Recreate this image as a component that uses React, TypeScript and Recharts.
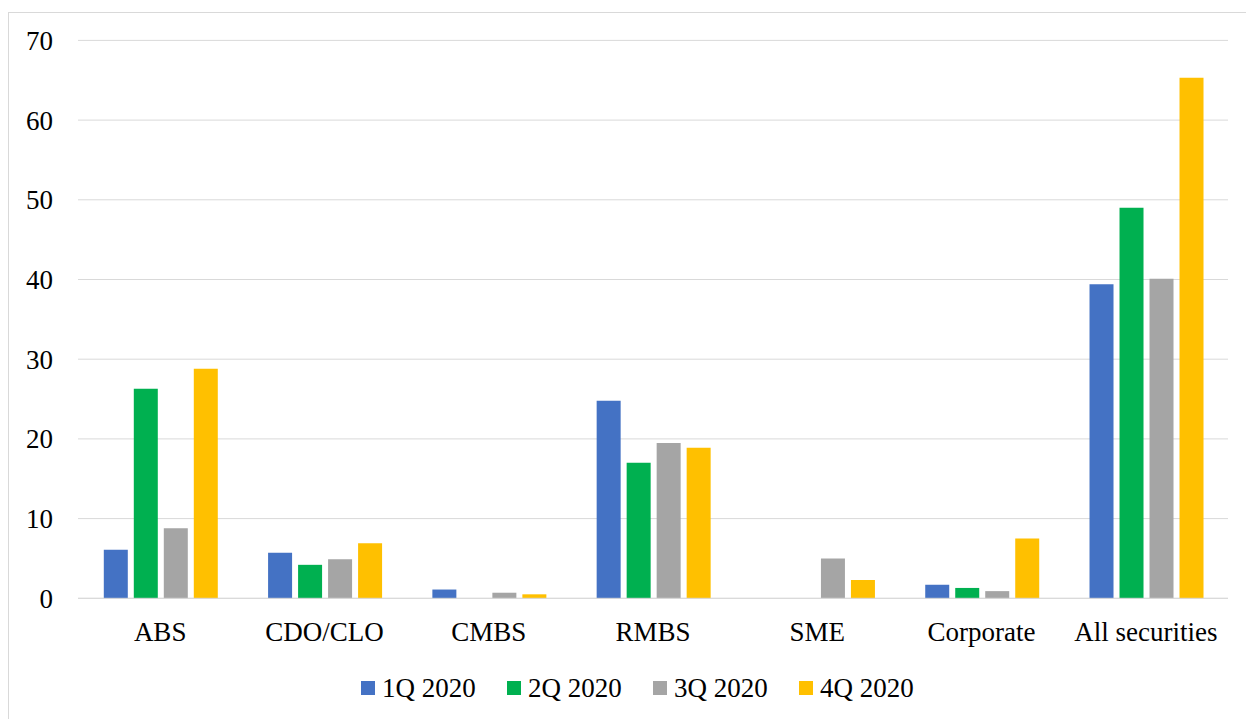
import React from "react";
import { BarChart, Bar, XAxis, YAxis, CartesianGrid, Legend } from "recharts";

// Securitisation volumes by asset class, quarterly 2020
const categories = ["ABS", "CDO/CLO", "CMBS", "RMBS", "SME", "Corporate", "All securities"];
const q1 = [6.1, 5.7, 1.1, 24.8, 0, 1.7, 39.4];
const q2 = [26.3, 4.2, 0, 17.0, 0, 1.3, 49.0];
const q3 = [8.8, 4.9, 0.7, 19.5, 5.0, 0.9, 40.1];
const q4 = [28.8, 6.9, 0.5, 18.9, 2.3, 7.5, 65.3];
const seriesNames = ["1Q 2020", "2Q 2020", "3Q 2020", "4Q 2020"];
const yTicks = [0, 10, 20, 30, 40, 50, 60, 70];

const colors = ["#4472C4", "#00B050", "#A5A5A5", "#FFC000"];
const FONT = "'Liberation Serif', 'Times New Roman', serif";

const data = categories.map((name, i) => ({
  name,
  q1: q1[i],
  q2: q2[i],
  q3: q3[i],
  q4: q4[i],
}));

const keys = ["q1", "q2", "q3", "q4"];

function LegendContent(props: any) {
  const payload = props.payload || [];
  return (
    <div style={{ display: "flex", fontFamily: FONT, fontSize: 27, lineHeight: "32px", color: "#000" }}>
      {payload.map((p: any) => (
        <div key={p.value} style={{ display: "flex", alignItems: "center", width: 146 }}>
          <span style={{ display: "inline-block", width: 14, height: 14, background: p.color, marginRight: 7 }} />
          <span style={{ whiteSpace: "nowrap" }}>{p.value}</span>
        </div>
      ))}
    </div>
  );
}

export default function App() {
  return (
    <div
      style={{
        position: "fixed",
        left: 0,
        top: 0,
        width: 1246,
        height: 719,
        overflow: "hidden",
        background: "#fff",
      }}
    >
      <div
        style={{
          position: "absolute",
          left: 8,
          top: 12,
          width: 1300,
          height: 800,
          border: "1px solid #d9d9d9",
          boxSizing: "border-box",
        }}
      />
      <div style={{ position: "absolute", left: 0, top: 0 }}>
        <BarChart
          width={1246}
          height={719}
          data={data}
          margin={{ top: 40.4, right: 18, bottom: 0, left: 0 }}
          barCategoryGap={25.8}
          barGap={6}
        >
          <CartesianGrid vertical={false} stroke="#d9d9d9" strokeWidth={1} />
          <XAxis
            dataKey="name"
            height={120.7}
            axisLine={{ stroke: "#d9d9d9", strokeWidth: 1 }}
            tickLine={false}
            tickSize={0}
            tickMargin={24}
            interval={0}
            tick={{ fontFamily: FONT, fontSize: 27, fill: "#000" }}
          />
          <YAxis
            width={78}
            domain={[0, 70]}
            ticks={yTicks}
            axisLine={false}
            tickLine={false}
            tickSize={0}
            tickMargin={25}
            tick={{ fontFamily: FONT, fontSize: 27, fill: "#000" }}
          />
          <Legend
            layout="horizontal"
            verticalAlign="middle"
            align="center"
            wrapperStyle={{ top: 672.3, left: 361, width: 620, height: 32 }}
            content={<LegendContent />}
          />
          {keys.map((k, i) => (
            <Bar key={k} dataKey={k} name={seriesNames[i]} fill={colors[i]} isAnimationActive={false} />
          ))}
        </BarChart>
      </div>
    </div>
  );
}
